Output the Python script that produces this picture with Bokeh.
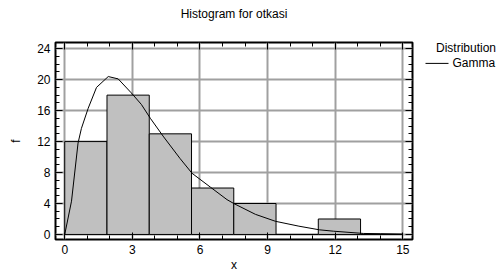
from bokeh.plotting import figure
from bokeh.layouts import row
from bokeh.models import (Range1d, FixedTicker, LinearAxis,
                          CustomJSTickFormatter)
from bokeh.core.properties import value
from bokeh.embed import file_html
from bokeh.resources import INLINE

FONT = "Liberation Sans"

# ---- data ----
bin_edges = [0.0, 1.875, 3.75, 5.625, 7.5, 9.375, 11.25, 13.125, 15.0]
counts = [12, 18, 13, 6, 4, 0, 2, 0]

gamma_x = [0.0, 0.30, 0.59, 0.74, 1.04, 1.41, 1.93, 2.37, 2.95, 3.40, 3.80,
           4.39, 5.12, 5.65, 6.47, 7.20, 7.50, 8.46, 9.35, 10.39, 11.30,
           11.93, 13.26, 14.00, 15.00]
gamma_f = [0.0, 4.3, 11.8, 13.7, 16.3, 19.0, 20.4, 20.1, 18.3, 16.8, 15.0,
           12.6, 9.8, 7.9, 6.1, 4.5, 4.0, 2.6, 1.7, 1.07, 0.6,
           0.42, 0.13, 0.10, 0.05]

x_ticks = [0, 3, 6, 9, 12, 15]
x_minor = list(range(0, 16))
y_ticks = [0, 4, 8, 12, 16, 20, 24]
y_minor = list(range(0, 25))

title_text = "Histogram for otkasi"
x_label = "x"
y_label = "f"
legend_title = "Distribution"
legend_item = "Gamma"

# ---- main figure ----
p = figure(width=420, height=274, output_backend="svg", toolbar_location=None,
           x_range=Range1d(-0.41, 15.43), y_range=Range1d(-0.65, 24.8),
           min_border_left=55, min_border_right=8,
           min_border_top=42, min_border_bottom=34)
p.background_fill_color = "white"
p.border_fill_color = "white"
p.outline_line_color = "black"
p.outline_line_width = 2
p.title.text = ""
p.title.standoff = 0

top_axis = LinearAxis()
right_axis = LinearAxis()
p.add_layout(right_axis, "right")
p.add_layout(top_axis, "above")

for ax in list(p.xaxis) + list(p.yaxis):
    ax.axis_line_color = None
    ax.major_tick_out = 0
    ax.major_tick_in = 7
    ax.minor_tick_out = 0
    ax.minor_tick_in = 4
    ax.major_tick_line_color = "black"
    ax.minor_tick_line_color = "black"
    ax.major_label_text_font = FONT
    ax.major_label_text_font_size = "12px"
    ax.major_label_text_color = "black"
    ax.major_label_standoff = 5
    ax.axis_label_text_font = FONT
    ax.axis_label_text_font_size = "12px"
    ax.axis_label_text_font_style = "normal"
    ax.axis_label_text_color = "black"

for ax in p.xaxis:
    ax.ticker = FixedTicker(ticks=x_ticks, minor_ticks=x_minor)
for ax in p.yaxis:
    ax.ticker = FixedTicker(ticks=y_ticks, minor_ticks=y_minor)

blank = CustomJSTickFormatter(code="return ''")
for ax in (top_axis, right_axis):
    ax.formatter = blank
    ax.major_label_standoff = 0

# chart title, centred over the plot frame
top_axis.axis_label = title_text
top_axis.axis_label_standoff = 22

bottom_axis = p.below[0]
bottom_axis.axis_label = x_label
bottom_axis.axis_label_standoff = 1

left_axis = p.left[0]
left_axis.axis_label = y_label
left_axis.axis_label_standoff = 11

p.xgrid.ticker = FixedTicker(ticks=x_ticks)
p.ygrid.ticker = FixedTicker(ticks=y_ticks)
p.grid.grid_line_color = "#a0a0a0"
p.grid.grid_line_width = 2

# ---- histogram bars ----
p.quad(left=bin_edges[:-1], right=bin_edges[1:], top=counts, bottom=0,
       fill_color="#c0c0c0", line_color="black", line_width=1)

# ---- fitted curve ----
p.line(gamma_x, gamma_f, line_color="black", line_width=1)

# ---- legend panel (its frame lines up with the main frame: page y 42..240) ----
lg = figure(width=77, height=274, output_backend="svg", toolbar_location=None,
            x_range=Range1d(420, 497), y_range=Range1d(240, 42),
            x_axis_type=None, y_axis_type=None,
            min_border=0, min_border_left=0, min_border_right=0,
            min_border_top=42, min_border_bottom=34)
lg.outline_line_color = None
lg.background_fill_color = "white"
lg.border_fill_color = "white"
lg.text(x=[435.5, 452.0], y=[48, 63], text=[legend_title, legend_item],
        text_align="left", text_baseline="middle", text_font=value(FONT),
        text_font_size="12px", text_color="black")
lg.line(x=[425, 448], y=[63, 63], line_color="black", line_width=1)

layout = row(p, lg)
open("out.html", "w").write(file_html(layout, INLINE))
